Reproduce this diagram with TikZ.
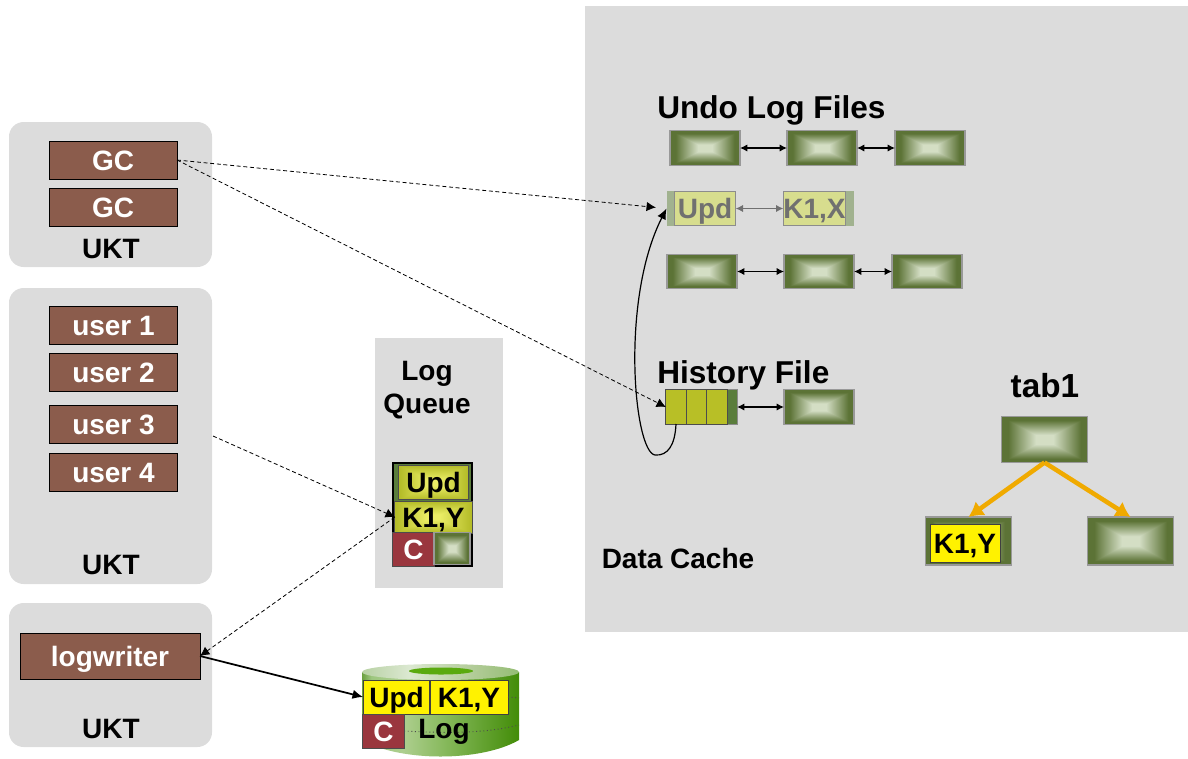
\documentclass[tikz,border=0pt]{standalone}
\usepackage{fontspec}
\setmainfont{Liberation Sans}
\usepackage{tikz}
\usetikzlibrary{arrows.meta}

\pgfdeclarefunctionalshading{greenglow}{\pgfpoint{-50bp}{-50bp}}{\pgfpoint{50bp}{50bp}}{}{
  abs exch abs 2 copy lt {exch} if pop 5 sub 16 div dup 0 lt {pop 0} if dup 1 gt {pop 1} if
  dup -0.47 mul 0.83 add exch dup -0.42 mul 0.87 add exch -0.56 mul 0.77 add
}
\pgfdeclarefunctionalshading{oliveglow}{\pgfpoint{-50bp}{-50bp}}{\pgfpoint{50bp}{50bp}}{}{
  abs exch abs 2 copy lt {exch} if pop 4 sub 20 div dup 0 lt {pop 0} if dup 1 gt {pop 1} if
  dup -0.21 mul 0.92 add exch dup -0.19 mul 0.93 add exch -0.24 mul 0.40 add
}
\pgfdeclarehorizontalshading{diskbody}{100bp}{rgb(0bp)=(0.42,0.63,0.25); rgb(25bp)=(0.42,0.63,0.25); rgb(28bp)=(0.62,0.78,0.50); rgb(38bp)=(0.68,0.81,0.56); rgb(52bp)=(0.52,0.72,0.35); rgb(75bp)=(0.26,0.55,0.03); rgb(100bp)=(0.26,0.55,0.03)}
\pgfdeclarehorizontalshading{disktop}{100bp}{rgb(0bp)=(0.72,0.82,0.64); rgb(25bp)=(0.72,0.82,0.64); rgb(40bp)=(0.86,0.91,0.82); rgb(60bp)=(0.70,0.80,0.60); rgb(75bp)=(0.58,0.74,0.45); rgb(100bp)=(0.58,0.74,0.45)}

\definecolor{panelgray}{RGB}{220,220,220}
\definecolor{brownfill}{RGB}{139,92,76}
\definecolor{maroonfill}{RGB}{154,54,62}
\definecolor{paleolive}{RGB}{215,221,142}
\definecolor{palegreen}{RGB}{161,178,143}
\definecolor{darkstrip}{RGB}{90,125,60}
\definecolor{fadedtext}{RGB}{112,112,112}
\definecolor{treeorange}{RGB}{240,170,0}
\definecolor{diskhole}{RGB}{90,170,15}
\definecolor{oliveedge}{RGB}{184,191,38}
\definecolor{olivemid}{RGB}{235,238,100}

\tikzset{
  bodytext/.style={font=\bfseries\fontsize{21}{24}\selectfont,inner sep=0pt,text height=15pt,text depth=0pt},
  headtext/.style={font=\bfseries\fontsize{23.7}{28}\selectfont,inner sep=0pt,text height=17pt,text depth=0pt},
  cutbox/.style={rectangle,inner sep=0pt,outer sep=0pt},
  brownbox/.style={cutbox,bodytext,draw=black,line width=0.6pt,fill=brownfill,text=white,minimum width=96pt,minimum height=28.5pt},
  greenbox/.style={cutbox,draw=black!40,line width=0.9pt,shading=greenglow,minimum width=52.5pt,minimum height=26pt},
  tabbox/.style={greenbox,minimum width=65pt,minimum height=34.5pt},
  olivebox/.style={cutbox,bodytext,draw=black!70,line width=0.6pt,shading=oliveglow},
  yellowbox/.style={cutbox,bodytext,draw=black!75,line width=0.6pt,fill=yellow},
  mrnbox/.style={cutbox,bodytext,draw=black!70,line width=0.6pt,fill=maroonfill,text=white,minimum width=31pt,minimum height=25.5pt},
  fadedbox/.style={cutbox,bodytext,draw=black!45,line width=0.6pt,fill=paleolive,text=fadedtext,minimum width=46pt,minimum height=26pt},
  stripbox/.style={cutbox,fill=palegreen,minimum width=6pt,minimum height=26pt},
  dasharrow/.style={line width=0.6pt,dash pattern=on 3pt off 2pt,-{Latex[length=7pt,width=7pt]}},
  linkarrow/.style={line width=1pt,{Latex[length=5.5pt,width=5.5pt]}-{Latex[length=5.5pt,width=5.5pt]}},
  treearrow/.style={treeorange,line width=3.4pt,-{Latex[length=11pt,width=13pt]}}
}

\begin{document}
\begin{tikzpicture}[x=0.75pt,y=0.75pt,yscale=-1]
\useasboundingbox (0,0) rectangle (1188,758);

%Shape: Panels
\fill [panelgray] (585,6) rectangle (1188,632);
\fill [panelgray] (375,338) rectangle (503,588);
\fill [panelgray,rounded corners=11pt] (9,122) rectangle (212,267);
\fill [panelgray,rounded corners=11pt] (9,288) rectangle (212,584);
\fill [panelgray,rounded corners=11pt] (9,603) rectangle (212,747);

%Shape: Brown boxes
\draw (113,160) node (gcone) [brownbox] {GC};
\draw (113,207) node (gctwo) [brownbox] {GC};
\draw (113.5,325) node (userone) [brownbox] {user 1};
\draw (113.5,372) node (usertwo) [brownbox] {user 2};
\draw (113.5,424) node (userthree) [brownbox] {user 3};
\draw (113.5,472) node (userfour) [brownbox] {user 4};
\draw (110,656) node (logwriter) [brownbox,minimum width=135pt,minimum height=34.5pt] {logwriter};

% Text Node
\draw (111,248) node (uktone) [bodytext] {UKT};
\draw (111,564) node (ukttwo) [bodytext] {UKT};
\draw (111,728) node (uktthree) [bodytext] {UKT};
\draw (427,370) node (logword) [bodytext] {Log};
\draw (427,403) node (queueword) [bodytext] {Queue};
\draw (678,558) node (cacheword) [bodytext] {Data Cache};
\draw (657,107) node (undoword) [headtext,anchor=west] {Undo Log Files};
\draw (657,372) node (histword) [headtext,anchor=west] {History File};
\draw (1045,386) node (tabword) [headtext,font=\bfseries\fontsize{25}{28}\selectfont] {tab1};

%Shape: Undo log files
\draw (705,148) node (undoa) [greenbox] {};
\draw (822,148) node (undob) [greenbox] {};
\draw (930,148) node (undoc) [greenbox] {};
\draw (670.5,208.5) node (stripleft) [stripbox] {};
\draw (849.5,208.5) node (stripright) [stripbox] {};
\draw (705,208.5) node (undoupd) [fadedbox] {Upd};
\draw (814.5,208.5) node (undokey) [fadedbox] {K1,X};
\draw (702,271.5) node (undod) [greenbox] {};
\draw (819,271.5) node (undoe) [greenbox] {};
\draw (927,271.5) node (undof) [greenbox] {};
\draw [linkarrow] (undoa) -- (undob);
\draw [linkarrow] (undob) -- (undoc);
\draw [linkarrow,fadedtext] (undoupd) -- (undokey);
\draw [linkarrow] (undod) -- (undoe);
\draw [linkarrow] (undoe) -- (undof);

%Shape: History file
\draw (702,407) node (histstrip) [cutbox,fill=darkstrip,draw=black!45,line width=0.6pt,minimum width=52.5pt,minimum height=26pt] {};
\draw (696.5,407) node (histcells) [cutbox,draw=black!70,line width=0.6pt,left color=oliveedge,middle color=olivemid,right color=oliveedge,minimum width=46pt,minimum height=26pt] {};
\draw [black!70,line width=0.7pt] (686.5,390) -- (686.5,424);
\draw [black!70,line width=0.7pt] (706.5,390) -- (706.5,424);
\coordinate (histfoot) at (676,424);
\draw (819,407) node (histd) [greenbox] {};
\draw [linkarrow] (histstrip) -- (histd);

%Shape: Table tree
\draw (1044.5,439.5) node (tabroot) [tabbox] {};
\draw (968.5,541) node (tableft) [tabbox,minimum height=36pt] {};
\draw (1130.5,541) node (tabright) [tabbox,minimum height=36pt] {};
\draw (965,543) node (tabkey) [yellowbox,minimum width=52.5pt,minimum height=28.5pt] {K1,Y};
\draw [treearrow] (tabroot.south) -- (tableft.north);
\draw [treearrow] (tabroot.south) -- (tabright.north);

%Shape: Log queue stack
\draw (432.5,514.5) node (stackback) [cutbox,draw=black,line width=1.2pt,fill=darkstrip,minimum width=59pt,minimum height=77pt] {};
\draw (433.5,482.5) node (stackupd) [olivebox,minimum width=52pt,minimum height=26pt] {Upd};
\draw (433.5,517) node (stackkey) [olivebox,minimum width=58pt,minimum height=24pt] {K1,Y};
\draw (413.5,549) node (stackc) [mrnbox] {C};
\draw (452,548.5) node (stackgreen) [greenbox,minimum width=27pt,minimum height=24pt] {};

%Shape: Log disk
\shade [shading=diskbody] (362,672) -- (362,740) .. controls (400,762) and (481,762) .. (519,740) -- (519,672) -- cycle;
\shade [shading=disktop] (440.5,672) ellipse (78.5 and 8);
\fill [diskhole] (441,671) ellipse (32 and 3.5);
\draw (396.5,697) node (diskupd) [yellowbox,minimum width=50pt,minimum height=25.5pt] {Upd};
\draw (469,697) node (diskkey) [yellowbox,minimum width=58.5pt,minimum height=25.5pt] {K1,Y};
\draw (383.5,731) node (diskc) [mrnbox] {C};
\coordinate (diskedgea) at (519,698);
\coordinate (diskedgeb) at (519,725);
\draw [dotted,line width=0.7pt,black!70] (diskkey.east) -- (diskedgea);
\draw [dotted,line width=0.7pt,black!70] (diskc.east) .. controls (460,734) and (490,732) .. (diskedgeb);
\draw (444,728) node (diskword) [bodytext] {Log};

%Straight Lines
\coordinate (userstart) at (213,436);
\draw [dasharrow,shorten >=8pt] (gcone.east) -- (stripleft.west);
\draw [dasharrow] (gcone.east) -- (histcells.west);
\draw [dasharrow] (userstart) -- (stackkey.west);
\draw [dasharrow] (stackkey.west) -- (logwriter.east);
\draw [line width=1.3pt,-{Latex[length=8pt,width=7pt]}] (logwriter.east) -- (diskupd.west);

%Curve Lines
\draw [line width=0.9pt,-{Latex[length=8pt,width=7pt]}] (histfoot) .. controls (675,445) and (668,456) .. (655,455) .. controls (634,452) and (620,300) .. (stripleft.west);

\end{tikzpicture}
\end{document}
